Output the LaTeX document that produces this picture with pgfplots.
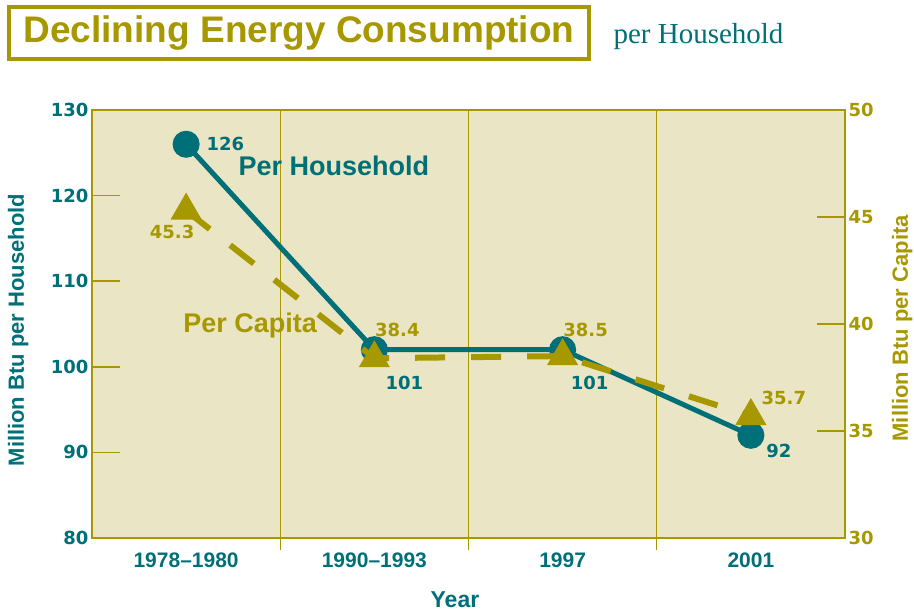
\documentclass[border=0pt]{standalone}
\usepackage{fontspec}
\setmainfont{Liberation Sans}
\newfontfamily\dejavu{DejaVu Sans}
\newfontfamily\serifttl{Liberation Serif}
\usepackage{pgfplots}
\pgfplotsset{compat=1.18}
\definecolor{tl}{RGB}{0,112,120}
\definecolor{olv}{RGB}{168,152,0}
\definecolor{bgc}{RGB}{234,229,196}

\begin{document}
\begin{tikzpicture}[x=1pt,y=1pt]
\useasboundingbox (-92,-75) rectangle (822,538);

% title
\node[draw=olv, line width=4pt, fill=white, minimum width=580pt, minimum height=52pt,
      inner sep=0pt, text=olv, font=\bfseries\fontsize{37}{37}\selectfont]
  at (207pt,505pt) {Declining Energy Consumption};
\node[anchor=base west, font=\serifttl\fontsize{29}{29}\selectfont, text=tl]
  at (518pt,494pt) {per Household};

% per household (left axis)
\begin{axis}[
  scale only axis, width=753pt, height=428pt,
  xmin=-0.5, xmax=3.5, ymin=80, ymax=130,
  clip=false,
  axis background/.style={fill=bgc},
  axis line style={olv, line width=1.5pt},
  xtick={0,1,2,3},
  xticklabels={1978--1980,1990--1993,1997,2001},
  xtick style={draw=none},
  x tick label style={font=\bfseries\fontsize{21}{21}\selectfont, text=tl, yshift=-11pt},
  ytick={80,90,...,130},
  ytick pos=left,
  y tick style={olv, line width=1.5pt},
  major tick length=28pt, tick align=inside,
  /pgf/number format/assume math mode=true,
  y tick label style={font=\dejavu\bfseries\fontsize{18}{18}\selectfont, text=tl},
  xlabel={Year},
  xlabel style={at={(axis description cs:0.482,-0.145)}, anchor=center,
                font=\bfseries\fontsize{23}{23}\selectfont, text=tl},
  ylabel={Million Btu per Household},
  ylabel style={at={(axis description cs:-0.098,0.486)}, anchor=center,
                font=\bfseries\fontsize{22}{22}\selectfont, text=tl},
]
\draw[olv, line width=1.2pt] (axis cs:0.5,130) -- (axis cs:0.5,78.6);
\draw[olv, line width=1.2pt] (axis cs:1.5,130) -- (axis cs:1.5,78.6);
\draw[olv, line width=1.2pt] (axis cs:2.5,130) -- (axis cs:2.5,78.6);

\addplot[tl, line width=5pt, mark=*, mark size=11pt] coordinates {
  (0,126) (1,102) (2,102) (3,92)
};

\node[font=\dejavu\bfseries\fontsize{18}{18}\selectfont, text=tl, anchor=west, xshift=17pt]
  at (axis cs:0,126) {126};
\node[font=\dejavu\bfseries\fontsize{18}{18}\selectfont, text=tl, xshift=30pt, yshift=-33pt]
  at (axis cs:1,102) {101};
\node[font=\dejavu\bfseries\fontsize{18}{18}\selectfont, text=tl, xshift=27pt, yshift=-33pt]
  at (axis cs:2,102) {101};
\node[font=\dejavu\bfseries\fontsize{18}{18}\selectfont, text=tl, xshift=28pt, yshift=-16pt]
  at (axis cs:3,92) {92};
\node[font=\bfseries\fontsize{27}{27}\selectfont, text=tl]
  at (axis cs:0.785,123.5) {Per Household};
\end{axis}

% per capita (right axis)
\begin{axis}[
  scale only axis, width=753pt, height=428pt,
  xmin=-0.5, xmax=3.5, ymin=30, ymax=50,
  clip=false,
  axis x line=none,
  axis y line*=right,
  axis line style={olv, line width=1.5pt},
  ytick={30,35,...,50},
  y tick style={olv, line width=1.5pt},
  major tick length=28pt, tick align=inside,
  /pgf/number format/assume math mode=true,
  y tick label style={font=\dejavu\bfseries\fontsize{18}{18}\selectfont, text=olv},
  ylabel={Million Btu per Capita},
  ylabel style={at={(axis description cs:1.076,0.49)}, anchor=center, rotate=0,
                font=\bfseries\fontsize{22}{22}\selectfont, text=olv},
]
\addplot[olv, line width=6pt, dash pattern=on 30pt off 26pt,
         mark=triangle*, mark size=12pt, mark options={solid}] coordinates {
  (0,45.3) (1,38.4) (2,38.5) (3,35.7)
};

\node[font=\dejavu\bfseries\fontsize{18}{18}\selectfont, text=olv, xshift=-14pt, yshift=-21pt]
  at (axis cs:0,45.3) {45.3};
\node[font=\dejavu\bfseries\fontsize{18}{18}\selectfont, text=olv, xshift=23pt, yshift=28pt]
  at (axis cs:1,38.4) {38.4};
\node[font=\dejavu\bfseries\fontsize{18}{18}\selectfont, text=olv, xshift=23pt, yshift=26pt]
  at (axis cs:2,38.5) {38.5};
\node[font=\dejavu\bfseries\fontsize{18}{18}\selectfont, text=olv, xshift=33pt, yshift=18pt]
  at (axis cs:3,35.7) {35.7};
\node[font=\bfseries\fontsize{27}{27}\selectfont, text=olv]
  at (axis cs:0.34,39.95) {Per Capita};
\end{axis}
\end{tikzpicture}
\end{document}
